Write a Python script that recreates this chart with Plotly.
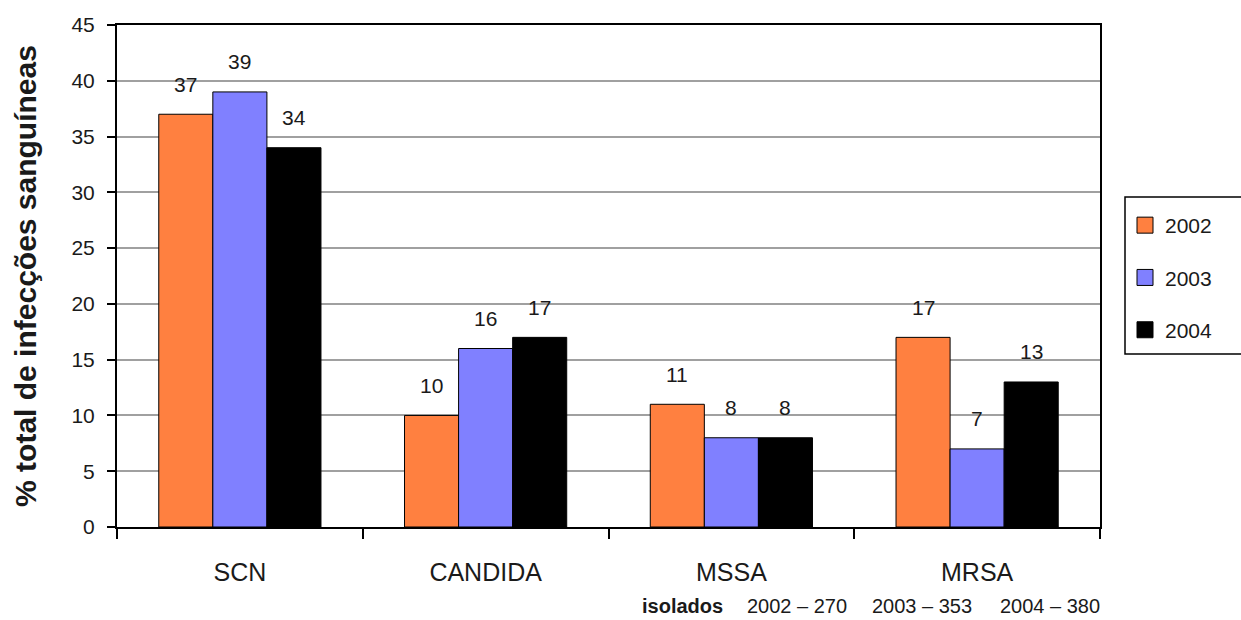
import plotly.graph_objects as go

# Bloodstream-infection isolates by organism group and year
categories = ["SCN", "CANDIDA", "MSSA", "MRSA"]
years = ["2002", "2003", "2004"]
values_2002 = [37, 10, 11, 17]
values_2003 = [39, 16, 8, 7]
values_2004 = [34, 17, 8, 13]
series = [values_2002, values_2003, values_2004]
colors = ["#FF8040", "#8080FF", "#000000"]

isolates_label = "isolados"
isolates_years = ["2002", "2003", "2004"]
isolates_counts = [270, 353, 380]

FONT = "Liberation Sans, Arial, sans-serif"
TXT = "#1a1a1a"
W, H = 1241, 620
M_L, M_R, M_T, M_B = 117, 141, 25, 93
BARGAP = 0.34

plot_w = W - M_L - M_R
plot_h = H - M_T - M_B
bar_px = plot_w / len(categories) * (1 - BARGAP) / len(years)


def px_to_paper_x(px):
    return (px - M_L) / plot_w


def px_to_paper_y(py):
    return (H - M_B - py) / plot_h


fig = go.Figure()

for yr, vals, col in zip(years, series, colors):
    fig.add_trace(go.Bar(
        x=categories, y=vals, name=yr,
        marker=dict(color=col, line=dict(color="#000000", width=1)),
        showlegend=False, hoverinfo="skip",
    ))

# legend entries drawn as square markers
for yr, col in zip(years, colors):
    fig.add_trace(go.Scatter(
        x=[None], y=[None], mode="markers", name=yr, legendgroup=yr,
        marker=dict(symbol="square", size=16, color=col,
                    line=dict(color="#000000", width=1)),
    ))

annotations = []
for j, vals in enumerate(series):
    for cat, v in zip(categories, vals):
        annotations.append(dict(
            x=cat, y=v, xref="x", yref="y", text=str(v), showarrow=False,
            xshift=(j - (len(years) - 1) / 2) * bar_px, yshift=30,
            font=dict(family=FONT, size=21, color=TXT),
        ))

# isolate counts under the axis
note_y = px_to_paper_y(606)
annotations.append(dict(
    x=px_to_paper_x(640), y=note_y, xref="paper", yref="paper",
    xanchor="left", yanchor="middle", showarrow=False,
    text="<b>" + isolates_label + "</b>",
    font=dict(family=FONT, size=20, color=TXT),
))
for px, yr, n in zip([745, 870, 998], isolates_years, isolates_counts):
    annotations.append(dict(
        x=px_to_paper_x(px), y=note_y, xref="paper", yref="paper",
        xanchor="left", yanchor="middle", showarrow=False,
        text=f"{yr} \u2013 {n}",
        font=dict(family=FONT, size=20, color=TXT),
    ))

# frame around the legend, running off the right edge
legend_frame = dict(
    type="rect", xref="paper", yref="paper", layer="above",
    x0=px_to_paper_x(1125), x1=px_to_paper_x(1260),
    y0=px_to_paper_y(354), y1=px_to_paper_y(197),
    line=dict(color="#000000", width=1.5), fillcolor="rgba(0,0,0,0)",
)

fig.update_layout(
    width=W, height=H,
    margin=dict(l=M_L, r=M_R, t=M_T, b=M_B, autoexpand=False),
    paper_bgcolor="#ffffff", plot_bgcolor="#ffffff",
    barmode="group", bargap=BARGAP, bargroupgap=0,
    font=dict(family=FONT, color=TXT),
    annotations=annotations,
    shapes=[legend_frame],
    legend=dict(
        x=px_to_paper_x(1125), y=px_to_paper_y(205),
        xanchor="left", yanchor="top",
        borderwidth=0, bgcolor="rgba(0,0,0,0)",
        font=dict(family=FONT, size=21, color=TXT),
        tracegroupgap=22,
    ),
    xaxis=dict(
        type="category", showline=True, linecolor="#000000", linewidth=2,
        mirror=True, ticks="outside", tickson="boundaries", ticklen=10,
        tickwidth=2, tickcolor="#000000", showgrid=False,
        tickfont=dict(family=FONT, size=25, color=TXT),
        ticklabelstandoff=22,
    ),
    yaxis=dict(
        range=[0, 45], dtick=5, showline=True, linecolor="#000000",
        linewidth=2, mirror=True, ticks="outside", ticklen=8, tickwidth=2,
        tickcolor="#000000", showgrid=True, gridcolor="#a0a0a0",
        gridwidth=1.5, zeroline=False,
        tickfont=dict(family=FONT, size=21, color=TXT),
        ticklabelstandoff=8,
        title=dict(text="<b>% total de infecções sanguíneas</b>",
                   font=dict(family=FONT, size=30, color=TXT), standoff=26),
    ),
)

fig.write_html("out.html")
